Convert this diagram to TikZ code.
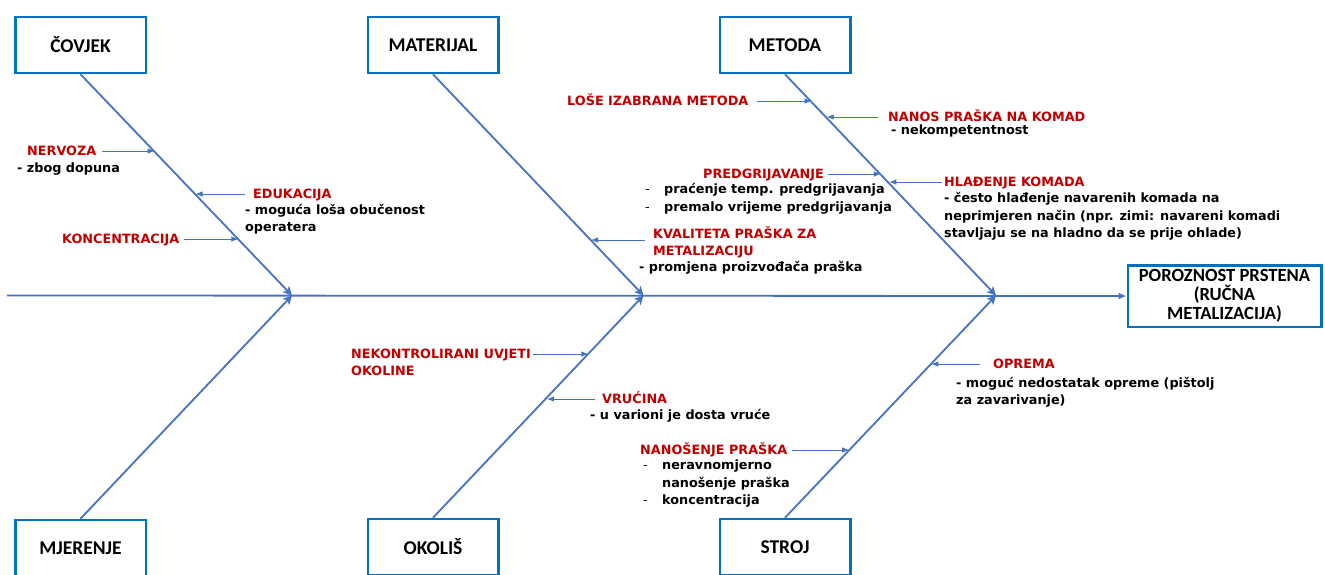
\documentclass[tikz,border=0pt]{standalone}
\usepackage{fontspec}
\setmainfont{DejaVu Sans}
\newfontfamily\titlefont{Carlito}
\usetikzlibrary{arrows.meta,calc}
\definecolor{boneblue}{HTML}{4472C4}
\definecolor{boxblue}{HTML}{0070C0}
\definecolor{labred}{HTML}{C00000}
\newcommand{\firststrut}{\rule{0pt}{12.5pt}}
\newcommand{\lidash}{\makebox[19pt][l]{\mdseries -}}
\begin{document}
\begin{tikzpicture}[x=1pt,y=-1pt,
  catbox/.style={draw=boxblue, line width=2.5pt, fill=white, minimum width=130.5pt, minimum height=56pt, inner sep=0pt, font=\titlefont\bfseries\fontsize{19.5}{19}\selectfont},
  bone/.style={draw=boneblue, line width=1.8pt, -{Stealth[length=9pt,width=9pt,inset=2.5pt]}},
  spine/.style={draw=boneblue, line width=1.8pt, -{Latex[length=8pt,width=7pt]}},
  sub/.style={draw=boneblue, line width=0.8pt, -{Latex[length=7pt,width=5.5pt]}},
  lab/.style={text=labred, font=\bfseries\fontsize{12.8}{17}\selectfont, inner sep=0pt, anchor=west, text height=9.3pt, text depth=0pt},
  lab2/.style={text=labred, font=\bfseries\fontsize{12.8}{17}\selectfont, inner sep=0pt, anchor=north west, align=left},
  desc/.style={font=\bfseries\fontsize{12.8}{17}\selectfont, inner sep=0pt, anchor=north west, align=left},
]
\clip (0,0) rectangle (1325,574);

% category boxes
\node[catbox] (covjek) at (80.5,45) {ČOVJEK};
\node[catbox] (materijal) at (433,45) {MATERIJAL};
\node[catbox] (metoda) at (785,45) {METODA};
\node[catbox] (mjerenje) at (80.5,548) {MJERENJE};
\node[catbox] (okolis) at (433,547) {OKOLIŠ};
\node[catbox] (stroj) at (785,547) {STROJ};
\node[catbox, minimum width=193.5pt, minimum height=61.5pt, align=center, font=\titlefont\bfseries\fontsize{18.6}{19}\selectfont] (effect) at (1224.5,296) {POROZNOST PRSTENA\\(RUČNA\\METALIZACIJA)};

% spine and junctions
\coordinate (tail) at (7,295.5);
\coordinate (j1) at (292,295.5);
\coordinate (j2) at (643.5,295.5);
\coordinate (j3) at (996,295.5);
\draw[spine] (tail) -- (effect.west);

% bones
\draw[bone] (covjek.south) -- (j1);
\draw[bone] (materijal.south) -- (j2);
\draw[bone] (metoda.south) -- (j3);
\draw[bone] (mjerenje.north) -- (j1);
\draw[bone] (okolis.north) -- (j2);
\draw[bone] (stroj.north) -- (j3);

% points on the bones
\coordinate (tNerv) at ($(covjek.south)!0.3506!(j1)$);
\coordinate (tEdu) at ($(covjek.south)!0.5438!(j1)$);
\coordinate (tKonc) at ($(covjek.south)!0.7460!(j1)$);
\coordinate (tKval) at ($(materijal.south)!0.7506!(j2)$);
\coordinate (tLose) at ($(metoda.south)!0.1258!(j3)$);
\coordinate (tNanos) at ($(metoda.south)!0.1978!(j3)$);
\coordinate (tPred) at ($(metoda.south)!0.4539!(j3)$);
\coordinate (tHlad) at ($(metoda.south)!0.4944!(j3)$);
\coordinate (tNek) at ($(okolis.north)!0.7383!(j2)$);
\coordinate (tVruc) at ($(okolis.north)!0.5414!(j2)$);
\coordinate (tNanosenje) at ($(stroj.north)!0.3043!(j3)$);
\coordinate (tOprema) at ($(stroj.north)!0.6935!(j3)$);

% labels
\node[lab] (nervoza) at (27,151) {NERVOZA};
\node[desc] (nervozaD) at (17,159.8) {\firststrut- zbog dopuna};
\node[lab] (edukacija) at (253,194) {EDUKACIJA};
\node[desc] (edukacijaD) at (245,201.8) {\firststrut- moguća loša obučenost\\operatera};
\node[lab] (koncentracija) at (62,239) {KONCENTRACIJA};

\node[lab2] (kvaliteta) at (653,226.2) {\firststrut KVALITETA PRAŠKA ZA\\METALIZACIJU};
\node[desc] (kvalitetaD) at (639,258.8) {\firststrut- promjena proizvođača praška};

\node[lab] (lose) at (567,101) {LOŠE IZABRANA METODA};
\node[lab] (nanos) at (888,117) {NANOS PRAŠKA NA KOMAD};
\node[desc] (nanosD) at (891,121.8) {\firststrut- nekompetentnost};
\node[lab] (predgr) at (703,174) {PREDGRIJAVANJE};
\node[desc, font=\bfseries\fontsize{12.8}{18}\selectfont] (predgrD) at (645,180.8) {\firststrut\lidash praćenje temp. predgrijavanja\\\lidash premalo vrijeme predgrijavanja};
\node[lab] (hladenje) at (944,182) {HLAĐENJE KOMADA};
\node[desc, font=\bfseries\fontsize{12.8}{17.5}\selectfont] (hladenjeD) at (944,189.8) {\firststrut- često hlađenje navarenih komada na\\neprimjeren način (npr. zimi: navareni komadi\\stavljaju se na hladno da se prije ohlade)};

\node[lab2] (nekontrol) at (351,346.2) {\firststrut NEKONTROLIRANI UVJETI\\OKOLINE};
\node[lab] (vrucina) at (602,399) {VRUĆINA};
\node[desc] (vrucinaD) at (590,406.8) {\firststrut- u varioni je dosta vruće};

\node[lab] (nanosenje) at (640,450) {NANOŠENJE PRAŠKA};
\node[desc, font=\bfseries\fontsize{12.8}{17.5}\selectfont] (nanosenjeD) at (643,456.8) {\firststrut\lidash neravnomjerno\\\hspace*{19pt}nanošenje praška\\\lidash koncentracija};
\node[lab] (oprema) at (993,364) {OPREMA};
\node[desc] (opremaD) at (956,374.8) {\firststrut- moguć nedostatak opreme (pištolj\\za zavarivanje)};

% small cause arrows
\draw[sub, shorten <=6pt] (nervoza.east) -- (nervoza.east -| tNerv);
\draw[sub, shorten <=8pt] (edukacija.west) -- (edukacija.west -| tEdu);
\draw[sub, shorten <=4pt] (koncentracija.east) -- (koncentracija.east -| tKonc);
\coordinate (kvalStart) at ([yshift=-13.8pt]kvaliteta.north west);
\draw[sub, shorten <=8pt] (kvalStart) -- (kvalStart -| tKval);
\draw[sub, shorten <=8pt] (lose.east) -- (lose.east -| tLose);
\draw[sub, shorten <=10pt] (nanos.west) -- (nanos.west -| tNanos);
\draw[sub, shorten <=4pt] (predgr.east) -- (predgr.east -| tPred);
\draw[sub, shorten <=2pt] (hladenje.west) -- (hladenje.west -| tHlad);
\coordinate (nekStart) at ([yshift=-7.8pt]nekontrol.north east);
\draw[sub, shorten <=2pt] (nekStart) -- (nekStart -| tNek);
\draw[sub, shorten <=7pt] (vrucina.west) -- (vrucina.west -| tVruc);
\draw[sub, shorten <=5pt] (nanosenje.east) -- (nanosenje.east -| tNanosenje);
\draw[sub, shorten <=13pt] (oprema.west) -- (oprema.west -| tOprema);
\end{tikzpicture}
\end{document}
